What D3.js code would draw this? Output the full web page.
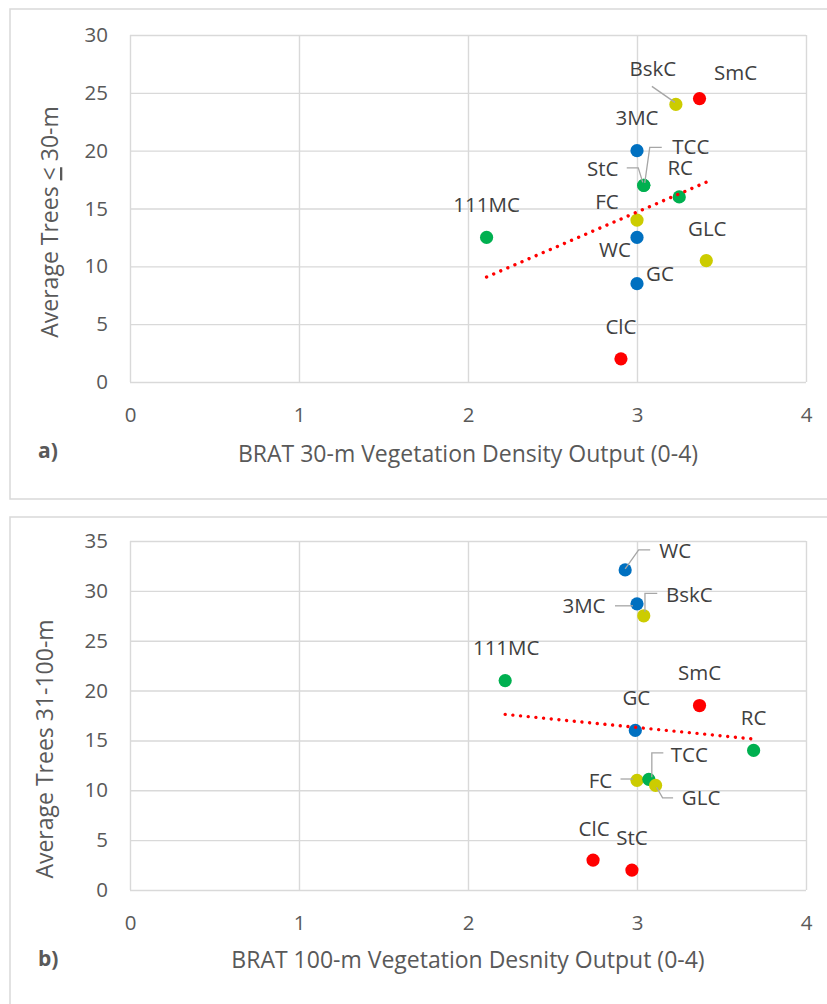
<!DOCTYPE html>
<html><head><meta charset="utf-8">
<script src="https://cdn.jsdelivr.net/npm/d3@7"></script>
<style>
body{margin:0;background:#fff}
svg{display:block}
text{font-family:"Open Sans",sans-serif}
</style>
</head><body>
<svg id="c" width="827" height="1004"></svg>
<script>
// ---------- DATA ----------
const xTicks = [0, 1, 2, 3, 4];
const yTicksA = [0, 5, 10, 15, 20, 25, 30];
const yTicksB = [0, 5, 10, 15, 20, 25, 30, 35];

// Chart a) 30-m
const sitesA  = ["SmC", "BskC", "3MC", "StC", "TCC", "RC", "FC", "WC", "111MC", "GLC", "GC", "ClC"];
const xA      = [3.37, 3.23, 3.0, 3.04, 3.04, 3.25, 3.0, 3.0, 2.11, 3.41, 3.0, 2.905];
const yA      = [24.5, 24, 20, 17, 17, 16, 14, 12.5, 12.5, 10.5, 8.5, 2];
const groupA  = [4, 3, 1, 2, 2, 2, 3, 1, 2, 3, 1, 4];

// Chart b) 100-m
const sitesB  = ["WC", "3MC", "BskC", "111MC", "SmC", "GC", "RC", "FC", "TCC", "GLC", "ClC", "StC"];
const xB      = [2.93, 3.0, 3.04, 2.22, 3.37, 2.99, 3.69, 3.0, 3.07, 3.11, 2.74, 2.97];
const yB      = [32.1, 28.7, 27.5, 21, 18.5, 16, 14, 11, 11.1, 10.5, 3, 2];
const groupB  = [1, 1, 3, 2, 4, 1, 2, 3, 2, 3, 4, 4];

const groupColor = d3.scaleOrdinal().domain([1, 2, 3, 4])
  .range(["#0070C0", "#00B050", "#CCCC00", "#FF0000"]);

// ---------- LABEL LAYOUT (offsets relative to the point, px) ----------
const labelLayoutA = {
  "SmC":  {dx: 36, dy: -19},
  "BskC": {dx: -23, dy: -28, leader: [[-24, -18], [-1, -2]]},
  "3MC":  {dx: 0, dy: -26},
  "StC":  {dx: -41, dy: -9, leader: [[-17, -17.5], [-5.5, -17.5], [-1, -3]]},
  "TCC":  {dx: 47, dy: -31, leader: [[18, -38], [6, -38], [1, -2.5]]},
  "RC":   {dx: 1, dy: -22},
  "FC":   {dx: -30, dy: -11},
  "WC":   {dx: -22, dy: 20},
  "111MC":{dx: 0, dy: -25},
  "GLC":  {dx: 1, dy: -24.5},
  "GC":   {dx: 23, dy: -3},
  "ClC":  {dx: 0, dy: -24.5}
};
const labelLayoutB = {
  "WC":   {dx: 50, dy: -12, leader: [[25, -20], [13.5, -20], [0, -1]]},
  "3MC":  {dx: -53, dy: 9.5, leader: [[-22, 2], [-4, 2]]},
  "BskC": {dx: 45.5, dy: -14, leader: [[13.5, -22.5], [1.2, -22.5], [1.2, -4]]},
  "111MC":{dx: 1, dy: -25.5},
  "SmC":  {dx: 0, dy: -25.5},
  "GC":   {dx: 1, dy: -25.5},
  "RC":   {dx: 0, dy: -25.5},
  "FC":   {dx: -36.5, dy: 7.5, leader: [[-16.5, -1.3], [-4, -1.3]]},
  "TCC":  {dx: 40.5, dy: -17.5, leader: [[14.5, -26.5], [3, -26.5], [3, -2]]},
  "GLC":  {dx: 45.5, dy: 19.5, leader: [[17.5, 12.5], [7, 12.5], [1, 2]]},
  "ClC":  {dx: 1, dy: -24.5},
  "StC":  {dx: 0, dy: -25}
};

// ---------- DRAW ----------
const svg = d3.select("#c");
const panelStroke = "#d9d9d9";
svg.append("rect").attr("x", 10).attr("y", 9).attr("width", 840).attr("height", 490)
  .attr("fill", "#fff").attr("stroke", panelStroke).attr("stroke-width", 1.5);
svg.append("rect").attr("x", 10).attr("y", 517).attr("width", 840).attr("height", 520)
  .attr("fill", "#fff").attr("stroke", panelStroke).attr("stroke-width", 1.5);

function regression(xs, ys) {
  const mx = d3.mean(xs), my = d3.mean(ys);
  let sxy = 0, sxx = 0;
  xs.forEach((v, i) => { sxy += (v - mx) * (ys[i] - my); sxx += (v - mx) * (v - mx); });
  const b = sxy / sxx;
  return {b, a: my - b * mx};
}

function drawChart(cfg) {
  const x = d3.scaleLinear().domain([0, 4]).range([130, 806]);
  const y = d3.scaleLinear().domain([0, d3.max(cfg.yTicks)]).range([cfg.bottom, cfg.top]);
  const g = svg.append("g");
  const fmt = d3.format("d");

  // gridlines
  const gy = g.append("g").attr("transform", `translate(${x(0)},0)`)
    .call(d3.axisLeft(y).tickValues(cfg.yTicks).tickSize(-(x(4) - x(0))).tickFormat(""));
  gy.select(".domain").remove();
  gy.selectAll("line").attr("stroke", "#d9d9d9").attr("stroke-width", 1.4);
  const gx = g.append("g").attr("transform", `translate(0,${y(0)})`)
    .call(d3.axisBottom(x).tickValues(xTicks).tickSize(-(y(0) - y(d3.max(cfg.yTicks)))).tickFormat(""));
  gx.select(".domain").remove();
  gx.selectAll("line").attr("stroke", "#d9d9d9").attr("stroke-width", 1.4);

  // tick labels
  const ly = g.append("g").attr("transform", `translate(${x(0)},0)`)
    .call(d3.axisLeft(y).tickValues(cfg.yTicks).tickFormat(fmt).tickSize(0).tickPadding(22));
  ly.select(".domain").remove();
  ly.selectAll("text").attr("font-family", "Open Sans").attr("font-size", "20.5px").attr("fill", "#595959");
  const lx = g.append("g").attr("transform", `translate(0,${y(0)})`)
    .call(d3.axisBottom(x).tickValues(xTicks).tickFormat(fmt).tickSize(0).tickPadding(25));
  lx.select(".domain").remove();
  lx.selectAll("text").attr("font-family", "Open Sans").attr("font-size", "20.5px").attr("fill", "#595959");

  // axis titles
  g.append("text").attr("x", 468).attr("y", cfg.xTitleY).attr("text-anchor", "middle")
    .attr("font-size", "23px").attr("fill", "#595959").text(cfg.xTitle);
  const yt = g.append("text").attr("transform", `translate(${cfg.yTitleX},${cfg.yTitleY}) rotate(-90)`)
    .attr("text-anchor", "middle").attr("font-size", "23px").attr("fill", "#595959");
  cfg.yTitleParts.forEach(p => {
    const t = yt.append("tspan").text(p.t);
    if (p.u) t.attr("text-decoration", "underline");
  });
  g.append("text").attr("x", 38).attr("y", cfg.tagY).attr("font-size", "21px")
    .attr("font-weight", "bold").attr("fill", "#595959").text(cfg.tag);

  const data = cfg.sites.map((s, i) => ({s, x: cfg.xs[i], y: cfg.ys[i], grp: cfg.groups[i]}));

  // points
  g.append("g").selectAll("circle").data(data).join("circle")
    .attr("cx", d => x(d.x)).attr("cy", d => y(d.y)).attr("r", 6.6)
    .attr("fill", d => groupColor(d.grp));

  // trendline (linear regression of the series)
  const r = regression(cfg.xs, cfg.ys);
  const [x0, x1] = d3.extent(cfg.xs);
  g.append("line")
    .attr("x1", x(x0)).attr("y1", y(r.a + r.b * x0))
    .attr("x2", x(x1)).attr("y2", y(r.a + r.b * x1))
    .attr("stroke", "#FF0000").attr("stroke-width", 3.4)
    .attr("stroke-linecap", "round").attr("stroke-dasharray", "0.01 7.7");

  // leader lines
  const line = d3.line();
  data.forEach(d => {
    const L = cfg.layout[d.s];
    if (L && L.leader) {
      const px = x(d.x), py = y(d.y);
      g.append("path").attr("d", line(L.leader.map(p => [px + p[0], py + p[1]])))
        .attr("fill", "none").attr("stroke", "#a6a6a6").attr("stroke-width", 1.3);
    }
  });

  // data labels
  g.append("g").selectAll("text").data(data).join("text")
    .attr("x", d => x(d.x) + cfg.layout[d.s].dx)
    .attr("y", d => y(d.y) + cfg.layout[d.s].dy)
    .attr("text-anchor", "middle").attr("font-size", "20.5px").attr("fill", "#404040")
    .text(d => d.s);
}

drawChart({
  sites: sitesA, xs: xA, ys: yA, groups: groupA, layout: labelLayoutA,
  yTicks: yTicksA, top: 35, bottom: 382,
  xTitle: "BRAT 30-m Vegetation Density Output (0-4)", xTitleY: 461.5,
  yTitleParts: [{t: "Average Trees "}, {t: "<", u: true}, {t: " 30-m"}],
  yTitleX: 58, yTitleY: 222, tag: "a)", tagY: 458
});
drawChart({
  sites: sitesB, xs: xB, ys: yB, groups: groupB, layout: labelLayoutB,
  yTicks: yTicksB, top: 541, bottom: 890,
  xTitle: "BRAT 100-m Vegetation Desnity Output (0-4)", xTitleY: 968,
  yTitleParts: [{t: "Average Trees 31-100-m"}],
  yTitleX: 53, yTitleY: 749, tag: "b)", tagY: 966
});
</script>
</body></html>
